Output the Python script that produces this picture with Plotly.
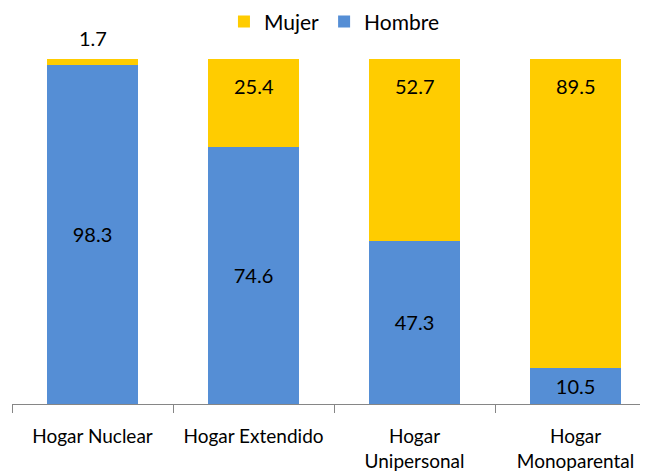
import plotly.graph_objects as go

categorias = ["Hogar Nuclear", "Hogar Extendido", "Hogar<br>Unipersonal", "Hogar<br>Monoparental"]
hombre = [98.3, 74.6, 47.3, 10.5]
mujer = [1.7, 25.4, 52.7, 89.5]

azul = "#558ED5"
amarillo = "#FFCC00"
fuente = "Lato"

fig = go.Figure()

fig.add_trace(go.Bar(
    x=categorias, y=hombre, name="Hombre",
    marker=dict(color=azul, line_width=0),
    text=[f"{v:.1f}" for v in hombre],
    textposition="inside", insidetextanchor="middle",
    textfont=dict(color="black", size=20, family=fuente)))

fig.add_trace(go.Bar(
    x=categorias, y=mujer, name="Mujer",
    marker=dict(color=amarillo, line_width=0),
    textposition="none"))

# etiquetas de Mujer: arriba de la barra, 1.7 va por fuera
for c, h, m in zip(categorias, hombre, mujer):
    fuera = m < 5
    fig.add_annotation(
        x=c, y=h + m, text=f"{m:.1f}", showarrow=False,
        yanchor="bottom" if fuera else "top",
        yshift=7 if fuera else -13,
        font=dict(color="black", size=20, family=fuente))

# la pagina tiene 8px de margen en el body, se compensa aqui
fig.update_layout(
    width=648, height=471,
    barmode="stack", bargap=0.43,
    margin=dict(l=4, r=8, t=51, b=75, autoexpand=False),
    paper_bgcolor="white", plot_bgcolor="white",
    font=dict(family=fuente, color="black"),
    showlegend=True,
    legend=dict(orientation="h", traceorder="reversed",
                x=0.507, xanchor="center", y=1.108, yanchor="middle",
                font=dict(size=21), itemwidth=30, bgcolor="rgba(0,0,0,0)"))

fig.update_xaxes(
    range=[-0.5, 3.45], showline=True, linecolor="#868686", linewidth=1,
    ticks="outside", tickson="boundaries", ticklen=8, tickcolor="#868686",
    ticklabelstandoff=15,
    tickfont=dict(size=19, family=fuente), showgrid=False)
fig.update_yaxes(range=[0, 100], visible=False)

fig.write_html("out.html")
